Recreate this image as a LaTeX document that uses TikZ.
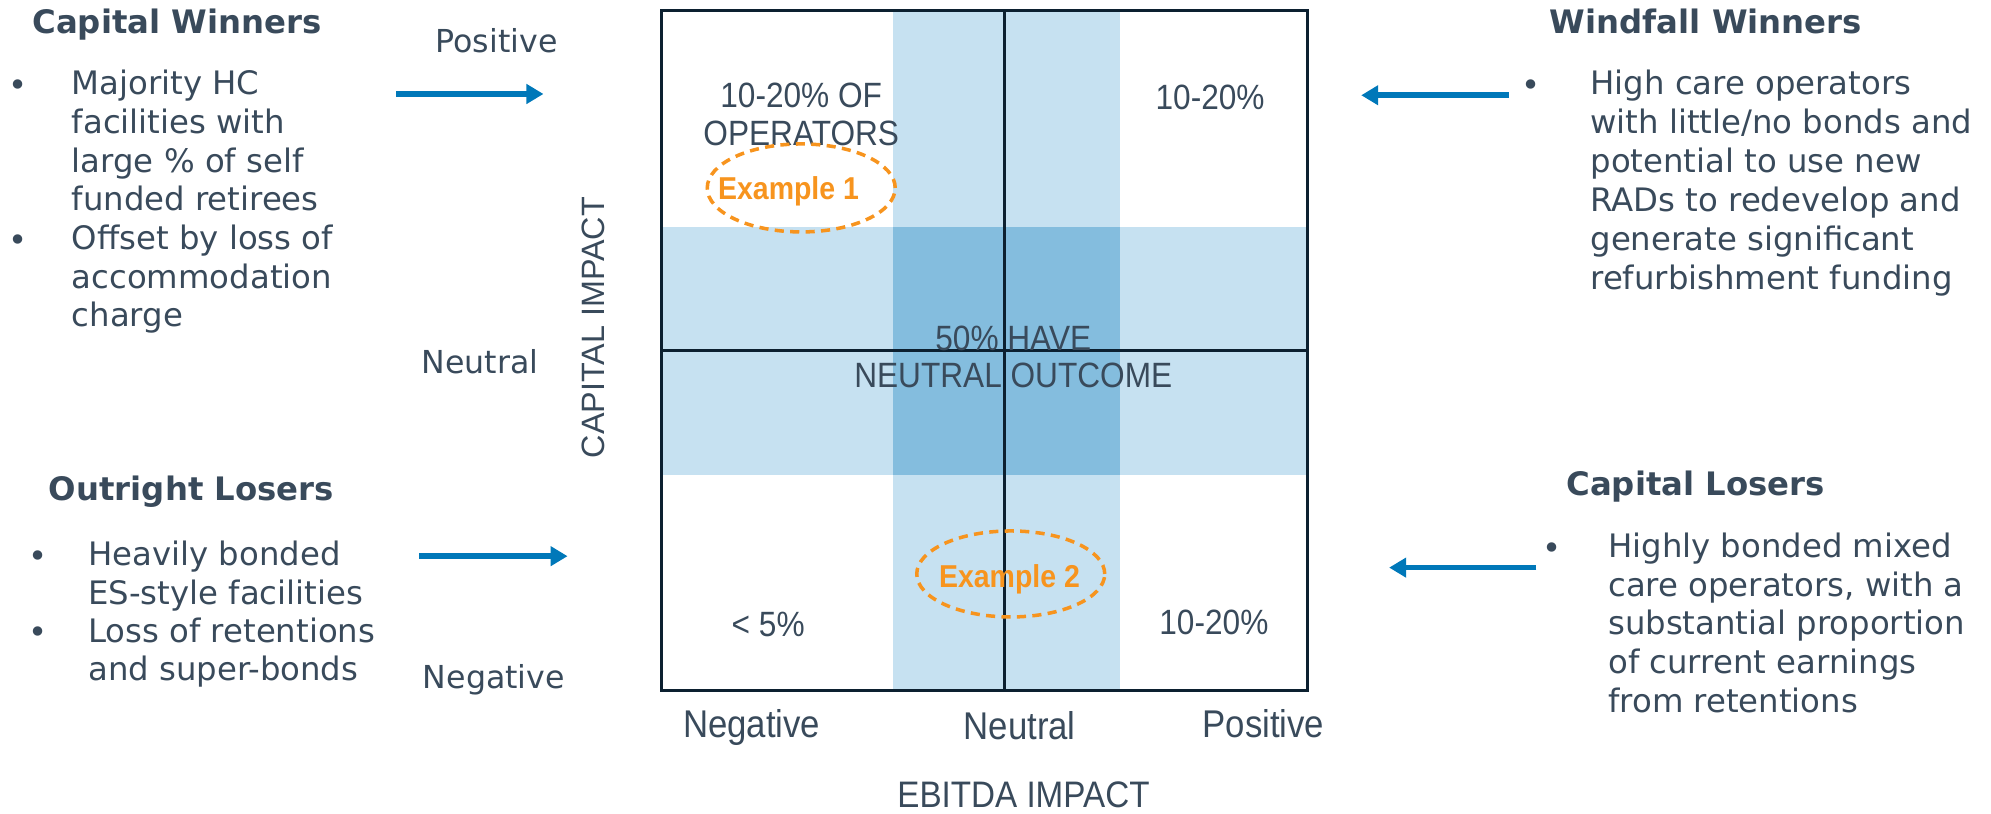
\documentclass[tikz,border=0pt]{standalone}
\usepackage{fontspec}
\setmainfont{DejaVu Sans}
\newfontfamily\gridfont[FakeStretch=0.9]{Liberation Sans}
\newfontfamily\axisfont{Liberation Sans}
\usetikzlibrary{positioning, shapes.geometric, arrows.meta}

\definecolor{inkgrey}{RGB}{57,74,91}
\definecolor{arrowblue}{RGB}{0,120,185}
\definecolor{exorange}{RGB}{247,148,30}
\definecolor{gridline}{RGB}{12,32,48}
\definecolor{bandlight}{RGB}{198,225,241}
\definecolor{banddark}{RGB}{132,189,222}

\begin{document}
\begin{tikzpicture}[x=0.127mm, y=-0.127mm,
    >={Triangle[length=1.7mm, width=1.9mm]},
    every node/.style={inner sep=0pt, text=inkgrey},
    heading/.style={anchor=base west, font=\fontsize{9.2}{11}\selectfont\bfseries},
    dot/.style={anchor=base, font=\fontsize{9.2}{11}\selectfont},
    bodytext/.style={anchor=north west, align=left,
      font=\fontsize{9.2}{11}\selectfont, execute at begin node=\strut},
    sidelabel/.style={anchor=base, font=\fontsize{9}{11}\selectfont},
    quadlabel/.style={align=center, font=\gridfont\fontsize{10}{10.6}\selectfont},
    axislabel/.style={anchor=base, font=\gridfont\fontsize{11}{13}\selectfont},
    example/.style={anchor=base, text=exorange, font=\gridfont\fontsize{9}{11}\selectfont\bfseries},
    exring/.style={ellipse, draw=exorange, line width=1pt, dash pattern=on 2.6pt off 1.8pt,
      minimum width=18.8mm, minimum height=8.8mm},
    arr/.style={->, draw=arrowblue, line width=1.6pt}]

  \useasboundingbox (0,0) rectangle (1568,641);

  % Shaded neutral bands
  \fill[bandlight] (703,8) rectangle (882,544);
  \fill[bandlight] (521,179) rectangle (1030,374);
  \fill[banddark] (703,179) rectangle (882,374);

  % Grid
  \draw[gridline, line width=0.9pt] (521,8) rectangle (1030,544);
  \draw[gridline, line width=0.9pt] (791,8) -- (791,544);
  \draw[gridline, line width=0.9pt] (521,276) -- (1030,276);

  % Quadrant shares
  \node[quadlabel] (qTL) at (631,90) {10-20\% OF\\OPERATORS};
  \node[quadlabel, anchor=base] (qTR) at (953,86) {10-20\%};
  \node[quadlabel] (qMid) at (798,281) {50\% HAVE\\NEUTRAL OUTCOME};
  \node[quadlabel, anchor=base] (qBL) at (605,501) {<\ 5\%};
  \node[quadlabel, anchor=base] (qBR) at (956,500) {10-20\%};

  % Examples
  \node[exring] (ex1) at (631,148) {};
  \node[example] (ex1Text) at (621,157) {Example 1};
  \node[exring, minimum height=8.6mm] (ex2) at (796,452) {};
  \node[example] (ex2Text) at (795,463) {Example 2};

  % Axes
  \node[sidelabel] (yPos) at (391,41) {Positive};
  \node[sidelabel] (yNeu) at (378,294) {Neutral};
  \node[sidelabel] (yNeg) at (389,542) {Negative};
  \node[rotate=90, font=\axisfont\fontsize{9.2}{11}\selectfont] (yAxis) at (467,258) {CAPITAL IMPACT};
  \node[axislabel] (xNeg) at (592,581) {Negative};
  \node[axislabel] (xNeu) at (803,582) {Neutral};
  \node[axislabel] (xPos) at (995,581) {Positive};
  \node[axislabel, font=\gridfont\fontsize{10.5}{12}\selectfont] (xAxis) at (806,636) {EBITDA IMPACT};

  % Capital winners
  \node[heading] (cwHead) at (25,26) {Capital Winners};
  \node[dot] (cwDot1) at (14,76) {\textbullet};
  \node[bodytext] (cwText1) at (56,54.7) {Majority HC\\facilities with\\large \% of self\\funded retirees};
  \node[dot] (cwDot2) at (14,198) {\textbullet};
  \node[bodytext] (cwText2) at (56,176.7) {Offset by loss of\\accommodation\\charge};

  % Outright losers
  \node[heading] (olHead) at (38,394) {Outright Losers};
  \node[dot] (olDot1) at (30,447) {\textbullet};
  \node[bodytext] (olText1) at (69,425.7) {Heavily bonded\\ES-style facilities};
  \node[dot] (olDot2) at (30,507) {\textbullet};
  \node[bodytext] (olText2) at (69,485.7) {Loss of retentions\\and super-bonds};

  % Windfall winners
  \node[heading] (wwHead) at (1220,26) {Windfall Winners};
  \node[dot] (wwDot) at (1206,76) {\textbullet};
  \node[bodytext, font=\fontsize{9.2}{11.1}\selectfont] (wwText) at (1252,54.7) {High care operators\\with little/no bonds and\\potential to use new\\RADs to redevelop and\\generate significant\\refurbishment funding};

  % Capital losers
  \node[heading] (clHead) at (1233,390) {Capital Losers};
  \node[dot] (clDot) at (1222,441) {\textbullet};
  \node[bodytext] (clText) at (1266,419.2) {Highly bonded mixed\\care operators, with a\\substantial proportion\\of current earnings\\from retentions};

  % Pointers into the grid
  \coordinate (cwTail) at (312,74);
  \coordinate (cwTip) at (428,74);
  \coordinate (olTail) at (330,438);
  \coordinate (olTip) at (447,438);
  \coordinate (wwTail) at (1188,75);
  \coordinate (wwTip) at (1072,75);
  \coordinate (clTail) at (1210,447);
  \coordinate (clTip) at (1094,447);
  \draw[arr] (cwTail) -- (cwTip);
  \draw[arr] (olTail) -- (olTip);
  \draw[arr] (wwTail) -- (wwTip);
  \draw[arr] (clTail) -- (clTip);
\end{tikzpicture}
\end{document}
